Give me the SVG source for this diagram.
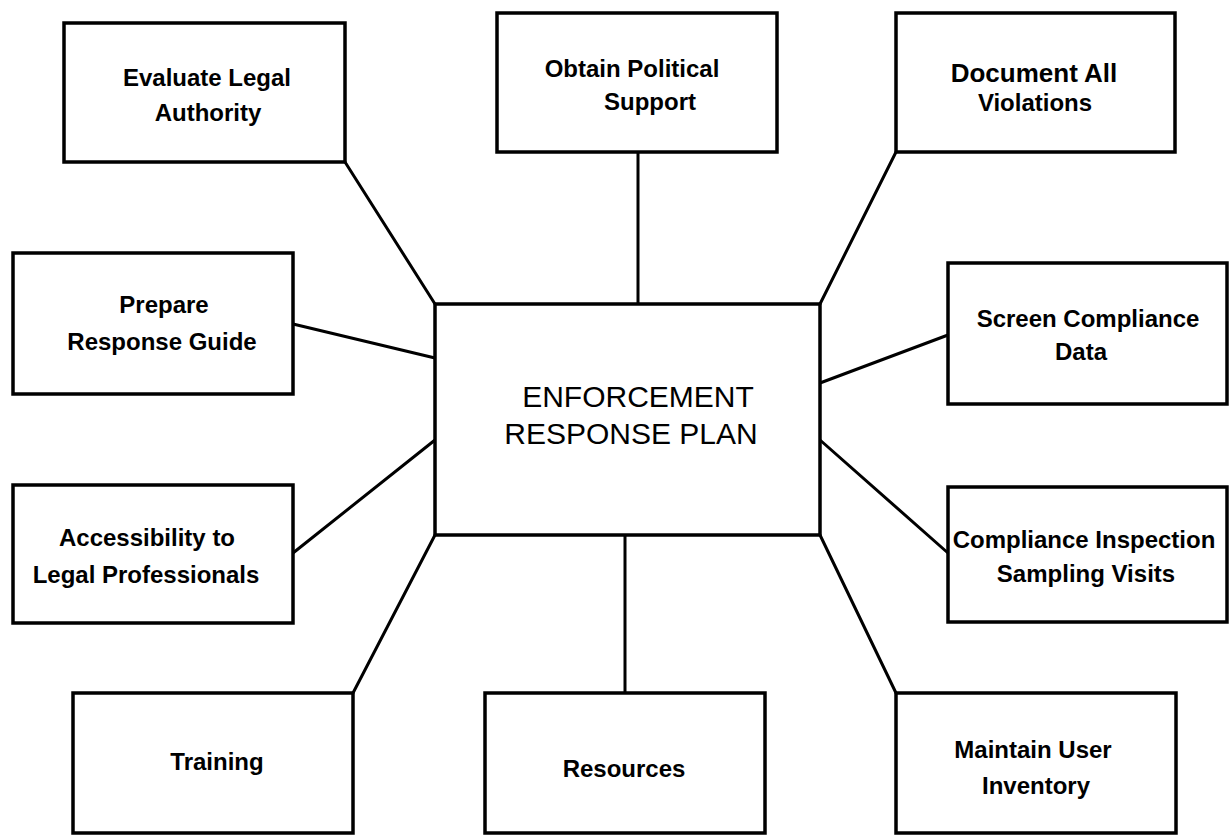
<svg xmlns="http://www.w3.org/2000/svg" width="1229" height="835" viewBox="0 0 1229 835">
<style>
.box{fill:#fff;stroke:#000;stroke-width:3.5;stroke-linejoin:miter}
.con line{stroke:#000;stroke-width:3;stroke-linecap:round}
.t{font-family:"Liberation Sans",Arial,sans-serif;font-size:24px;font-weight:bold;fill:#000;text-anchor:middle}
.c{font-family:"Liberation Sans",Arial,sans-serif;font-size:30px;font-weight:normal;fill:#000;text-anchor:middle}
</style>
<rect width="1229" height="835" fill="#fff"/>
<g id="connectors" class="con">
<line x1="345" y1="162" x2="435" y2="304"/>
<line x1="638" y1="152" x2="638" y2="304"/>
<line x1="896" y1="152" x2="820" y2="304"/>
<line x1="293" y1="324" x2="435" y2="358"/>
<line x1="293" y1="553" x2="435" y2="440"/>
<line x1="820" y1="383" x2="948" y2="335"/>
<line x1="820" y1="440" x2="948" y2="553"/>
<line x1="435" y1="535" x2="353" y2="693"/>
<line x1="625" y1="535" x2="625" y2="693"/>
<line x1="820" y1="535" x2="896" y2="693"/>
</g>
<g id="center">
<rect class="box" x="435" y="304" width="385" height="231"/>
<text class="c" x="638" y="407">ENFORCEMENT</text>
<text class="c" x="631" y="444">RESPONSE PLAN</text>
</g>
<g id="evaluate">
<rect class="box" x="64" y="23" width="281" height="139"/>
<text class="t" x="207" y="86">Evaluate Legal</text>
<text class="t" x="208" y="121">Authority</text>
</g>
<g id="obtain">
<rect class="box" x="497" y="13" width="280" height="139"/>
<text class="t" x="632" y="77">Obtain Political</text>
<text class="t" x="650" y="110">Support</text>
</g>
<g id="document">
<rect class="box" x="896" y="13" width="279" height="139"/>
<text class="t" x="1034" y="82" style="font-size:26px">Document All</text>
<text class="t" x="1035" y="111">Violations</text>
</g>
<g id="prepare">
<rect class="box" x="13" y="253" width="280" height="141"/>
<text class="t" x="164" y="313">Prepare</text>
<text class="t" x="162" y="350">Response Guide</text>
</g>
<g id="accessibility">
<rect class="box" x="13" y="485" width="280" height="138"/>
<text class="t" x="147" y="546">Accessibility to</text>
<text class="t" x="146" y="583">Legal Professionals</text>
</g>
<g id="screen">
<rect class="box" x="948" y="263" width="279" height="141"/>
<text class="t" x="1088" y="327">Screen Compliance</text>
<text class="t" x="1081" y="360">Data</text>
</g>
<g id="inspection">
<rect class="box" x="948" y="487" width="279" height="135"/>
<text class="t" x="1084" y="548">Compliance Inspection</text>
<text class="t" x="1086" y="582">Sampling Visits</text>
</g>
<g id="training">
<rect class="box" x="73" y="693" width="280" height="140"/>
<text class="t" x="217" y="770">Training</text>
</g>
<g id="resources">
<rect class="box" x="485" y="693" width="280" height="140"/>
<text class="t" x="624" y="777">Resources</text>
</g>
<g id="maintain">
<rect class="box" x="896" y="693" width="280" height="140"/>
<text class="t" x="1033" y="758">Maintain User</text>
<text class="t" x="1036" y="794">Inventory</text>
</g>
</svg>
